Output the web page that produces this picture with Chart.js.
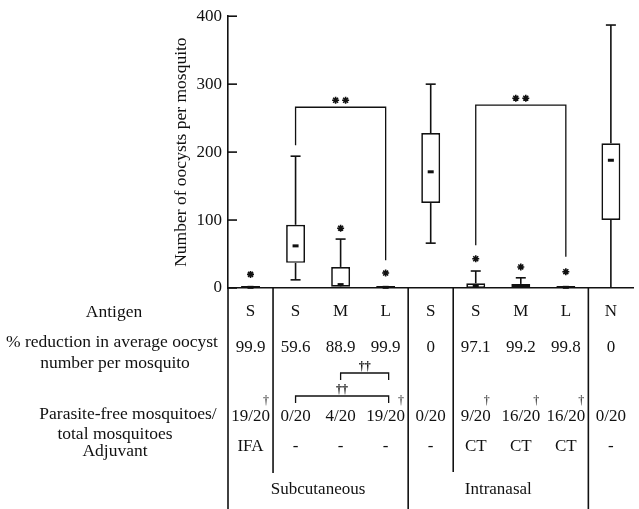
<!DOCTYPE html>
<html>
<head>
<meta charset="utf-8">
<script src="https://cdn.jsdelivr.net/npm/chart.js@4/dist/chart.umd.min.js"></script>
<style>
  html, body { margin: 0; padding: 0; background: #fff; }
</style>
</head>
<body>
<canvas id="oocyst-chart" width="639" height="509"></canvas>
<script>
// groups, left to right
const antigens = ['S', 'S', 'M', 'L', 'S', 'S', 'M', 'L', 'N'];
const reductionPct = ['99.9', '59.6', '88.9', '99.9', '0', '97.1', '99.2', '99.8', '0'];
const parasiteFree = ['19/20', '0/20', '4/20', '19/20', '0/20', '9/20', '16/20', '16/20', '0/20'];
const daggerMarks = [true, false, false, true, false, true, true, true, false];
const adjuvants = ['IFA', '-', '-', '-', '-', 'CT', 'CT', 'CT', '-'];
const routeNames = ['Subcutaneous', 'Intranasal'];
const routeFirst = [0, 4];
const routeLast = [3, 7];

// oocysts per mosquito (box plot stats)
const boxMin = [0, 12, 0, 0, 66, 0, 0, 0, 0];
const boxQ1 = [0, 37, 2, 0, 125, 0, 1, 0, 100];
const boxMedian = [1, 62, 5, 1, 171, 3, 3, 1, 188];
const boxQ3 = [3, 93, 31, 3, 228, 7, 6, 3, 213];
const boxMax = [3, 194, 72, 3, 300, 25, 15, 3, 387];
const starAt = [20, null, 88, 22, null, 43, 31, 24, null];

// ** brackets in the plot
const sigFrom = [1, 5];
const sigTo = [3, 7];
const sigTop = [266, 269];
const sigLeftEnd = [210, 63];
const sigRightEnd = [41, 46];

// †† brackets in the table
const freeFrom = [2, 1];
const freeTo = [3, 3];

const yTicks = [0, 100, 200, 300, 400];

const INK = '#111';
const SERIF = "'Liberation Serif', 'Times New Roman', serif";

const line = (ctx, x1, y1, x2, y2) => {
  ctx.beginPath();
  ctx.moveTo(x1, y1);
  ctx.lineTo(x2, y2);
  ctx.stroke();
};

const star = (ctx, x, y) => {
  Chart.helpers.drawPoint(ctx, { pointStyle: 'star', radius: 3.5, borderWidth: 1.6, rotation: 0 }, x, y);
};

const boxExtras = {
  id: 'boxExtras',
  afterDatasetsDraw(chart) {
    const { ctx, chartArea } = chart;
    const xs = chart.scales.x;
    const ys = chart.scales.y;
    ctx.save();
    ctx.strokeStyle = INK;
    ctx.fillStyle = INK;
    ctx.lineWidth = 1.6;

    // inward tick marks
    yTicks.forEach(v => {
      const py = ys.getPixelForValue(v);
      line(ctx, chartArea.left, py, chartArea.left + 9, py);
    });

    // whiskers and medians
    boxMin.forEach((lo, i) => {
      const cx = xs.getPixelForValue(i);
      if (boxMax[i] > boxQ3[i]) {
        const top = ys.getPixelForValue(boxMax[i]);
        line(ctx, cx, ys.getPixelForValue(boxQ3[i]), cx, top);
        line(ctx, cx - 5, top, cx + 5, top);
      }
      if (lo < boxQ1[i]) {
        const bot = ys.getPixelForValue(lo);
        line(ctx, cx, ys.getPixelForValue(boxQ1[i]), cx, bot);
        if (lo > 0) line(ctx, cx - 5, bot, cx + 5, bot);
      }
      const my = ys.getPixelForValue(boxMedian[i]);
      ctx.fillRect(cx - 3, my - 1.5, 6, 3);
    });

    // ** brackets
    ctx.lineWidth = 1.3;
    sigFrom.forEach((a, k) => {
      const x1 = xs.getPixelForValue(a);
      const x2 = xs.getPixelForValue(sigTo[k]);
      const yt = ys.getPixelForValue(sigTop[k]);
      ctx.beginPath();
      ctx.moveTo(x1, ys.getPixelForValue(sigLeftEnd[k]));
      ctx.lineTo(x1, yt);
      ctx.lineTo(x2, yt);
      ctx.lineTo(x2, ys.getPixelForValue(sigRightEnd[k]));
      ctx.stroke();
      const mid = (x1 + x2) / 2;
      ctx.lineWidth = 1.6;
      star(ctx, mid - 5, yt - 7);
      star(ctx, mid + 5, yt - 7);
      ctx.lineWidth = 1.3;
    });
    ctx.restore();
  },
  afterDraw(chart) {
    const { ctx, chartArea, height } = chart;
    const xs = chart.scales.x;
    const px = i => xs.getPixelForValue(i);
    const edge = i => (px(i) + px(i + 1)) / 2;
    ctx.save();
    ctx.strokeStyle = INK;
    ctx.fillStyle = INK;
    ctx.lineWidth = 1.6;

    // table rules
    line(ctx, chartArea.left, chartArea.bottom, chartArea.left, height);
    [[0, 473], [3, height], [4, 472], [7, height]].forEach(([i, b]) => {
      const ex = edge(i);
      line(ctx, ex, chartArea.bottom, ex, b);
    });

    ctx.textAlign = 'center';
    ctx.textBaseline = 'middle';
    ctx.font = `17.5px ${SERIF}`;

    // row headings
    [['Antigen', 114, 312],
     ['% reduction in average oocyst', 112, 342],
     ['number per mosquito', 115, 363],
     ['Parasite-free mosquitoes/', 128, 414],
     ['total mosquitoes', 115, 434],
     ['Adjuvant', 115, 451]].forEach(([t, x, y]) => ctx.fillText(t, x, y));

    antigens.forEach((a, i) => {
      const cx = px(i);
      ctx.font = `17px ${SERIF}`;
      ctx.fillText(a, cx, 312);
      ctx.fillText(reductionPct[i], cx, 348);
      ctx.fillText(parasiteFree[i], cx, 417);
      ctx.fillText(adjuvants[i], cx, 447);
      if (daggerMarks[i]) {
        const w = ctx.measureText(parasiteFree[i]).width;
        ctx.font = `12px ${SERIF}`;
        ctx.fillText('\u2020', cx + w / 2 - 4, 401);
      }
    });

    ctx.font = `17px ${SERIF}`;
    routeNames.forEach((r, k) => {
      const left = routeFirst[k] === 0 ? chartArea.left : edge(routeFirst[k] - 1);
      const right = edge(routeLast[k]);
      ctx.fillText(r, (left + right) / 2, 490);
    });

    // †† brackets
    ctx.lineWidth = 1.3;
    freeFrom.forEach((a, k) => {
      const yb = k === 0 ? 373 : 396;
      const x1 = px(a);
      const x2 = px(freeTo[k]) + 3;
      ctx.beginPath();
      ctx.moveTo(x1, yb + 7);
      ctx.lineTo(x1, yb);
      ctx.lineTo(x2, yb);
      ctx.lineTo(x2, yb + 7);
      ctx.stroke();
      ctx.font = `bold 12px ${SERIF}`;
      ctx.fillText('\u2020\u2020', (x1 + x2) / 2, yb - 6);
    });
    ctx.restore();
  }
};

new Chart(document.getElementById('oocyst-chart'), {
  type: 'bar',
  data: {
    labels: antigens,
    datasets: [
      {
        type: 'line',
        data: starAt,
        showLine: false,
        pointStyle: 'star',
        pointRadius: 3.5,
        pointBorderWidth: 1.6,
        pointBorderColor: INK,
        pointBackgroundColor: INK
      },
      {
        type: 'bar',
        data: boxQ1.map((q, i) => [q, boxQ3[i]]),
        backgroundColor: '#fff',
        borderColor: INK,
        borderWidth: 1.7,
        borderSkipped: false,
        barPercentage: 0.42,
        categoryPercentage: 1
      }
    ]
  },
  options: {
    responsive: false,
    animation: false,
    layout: { padding: { top: 16, left: 167, right: 0, bottom: 221 } },
    plugins: {
      legend: { display: false },
      tooltip: { enabled: false }
    },
    scales: {
      x: {
        offset: true,
        grid: { display: false, drawTicks: false },
        ticks: { display: false },
        border: { display: true, color: INK, width: 1.6 },
        afterFit: s => { s.height = 0; }
      },
      y: {
        min: 0,
        max: 400,
        ticks: {
          stepSize: 100,
          color: INK,
          padding: 6,
          font: { family: SERIF, size: 17 }
        },
        grid: { display: false, drawTicks: false },
        border: { display: true, color: INK, width: 1.6 },
        title: {
          display: true,
          text: 'Number of oocysts per mosquito',
          color: INK,
          font: { family: SERIF, size: 17.5 },
          padding: { top: 4, bottom: 4 }
        },
        afterFit: s => { s.width = 61; }
      }
    }
  },
  plugins: [boxExtras]
});
</script>
</body>
</html>
